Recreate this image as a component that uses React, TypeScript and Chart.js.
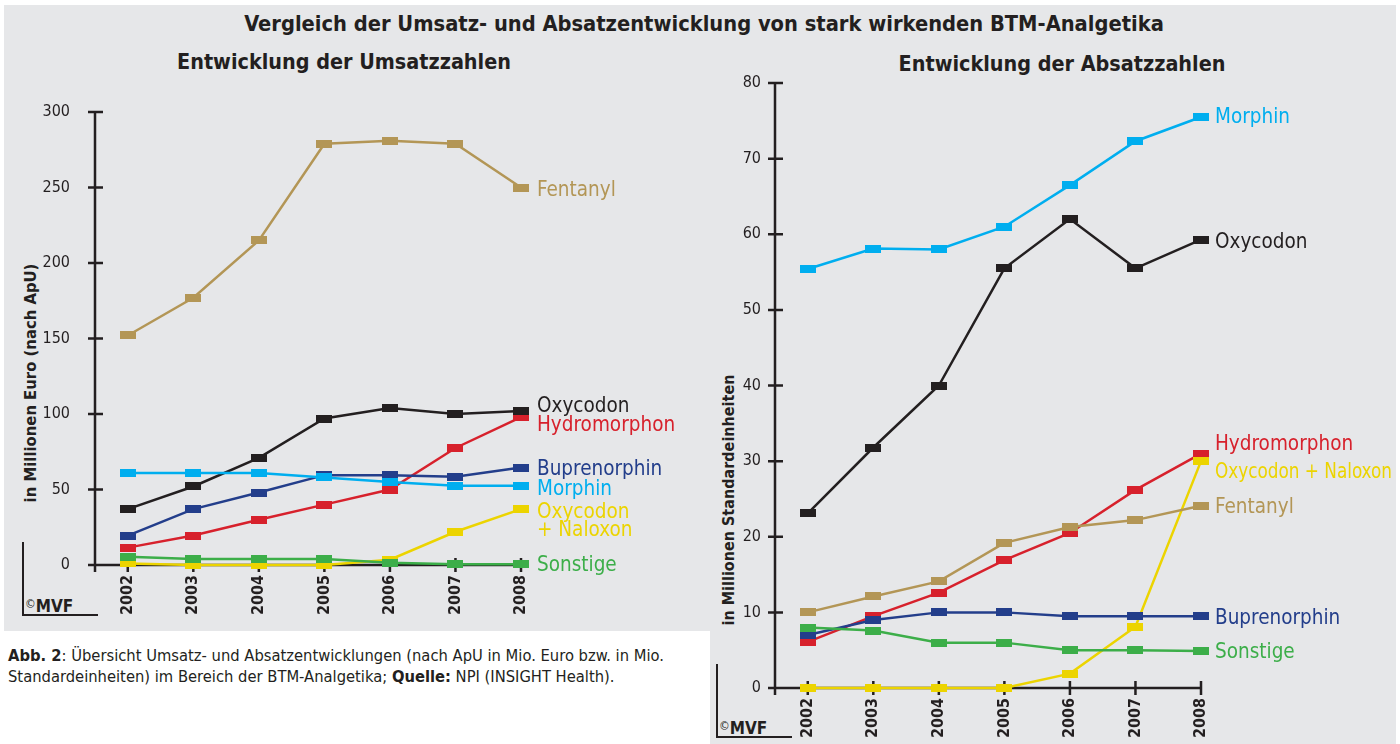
import React, { useEffect, useRef } from "react";
import { Chart, registerables } from "chart.js";

Chart.register(...registerables);

// ---------- data ----------
const years = [2002, 2003, 2004, 2005, 2006, 2007, 2008];
const yearLabels = ["2002", "2003", "2004", "2005", "2006", "2007", "2008"];

// Umsatz (in Millionen Euro, nach ApU)
const umsatzFentanyl = [152, 177, 215, 279, 281, 279, 250];
const umsatzOxycodon = [37, 52, 71, 97, 104, 100, 102];
const umsatzHydromorphon = [11.5, 19.5, 30, 40, 50, 77.5, 98];
const umsatzBuprenorphin = [19.5, 37, 48, 59.5, 59.5, 58.5, 64.5];
const umsatzMorphin = [61, 61, 61, 58, 55, 52.5, 52.5];
const umsatzOxyNaloxon = [1, 0, 0, 0, 3.5, 22, 37];
const umsatzSonstige = [5.5, 4, 4, 4, 1.5, 0.5, 0.5];
const umsatzTicks = [0, 50, 100, 150, 200, 250, 300];

// Absatz (in Millionen Standardeinheiten)
const absatzMorphin = [55.4, 58.1, 58, 61, 66.5, 72.3, 75.5];
const absatzOxycodon = [23.1, 31.8, 40, 55.5, 62, 55.5, 59.3];
const absatzHydromorphon = [6.1, 9.5, 12.6, 16.9, 20.5, 26.2, 31];
const absatzOxyNaloxon = [0, 0, 0, 0, 1.9, 8.1, 30];
const absatzFentanyl = [10, 12.1, 14.1, 19.2, 21.3, 22.2, 24.1];
const absatzBuprenorphin = [7, 9, 10, 10, 9.5, 9.5, 9.5];
const absatzSonstige = [8, 7.6, 6, 6, 5, 5, 4.9];
const absatzTicks = [0, 10, 20, 30, 40, 50, 60, 70, 80];

// ---------- style ----------
const FONT = "'DejaVu Sans Condensed', 'DejaVu Sans', sans-serif";
const INK = "#231f20";
const BG = "#e6e7e9";
const C = {
  fentanyl: "#b39656",
  oxycodon: "#231f20",
  hydromorphon: "#d7212c",
  buprenorphin: "#233e8b",
  morphin: "#00aeef",
  oxynal: "#ecd400",
  sonstige: "#3cae49",
};

type Series = { name: string; values: number[]; color: string; label: string[]; dy: number; maxW?: number };

const umsatzSeries: Series[] = [
  { name: "Sonstige", values: umsatzSonstige, color: C.sonstige, label: ["Sonstige"], dy: 1 },
  { name: "Oxycodon + Naloxon", values: umsatzOxyNaloxon, color: C.oxynal, label: ["Oxycodon", "+ Naloxon"], dy: 4 },
  { name: "Morphin", values: umsatzMorphin, color: C.morphin, label: ["Morphin"], dy: 4 },
  { name: "Buprenorphin", values: umsatzBuprenorphin, color: C.buprenorphin, label: ["Buprenorphin"], dy: 2 },
  { name: "Oxycodon", values: umsatzOxycodon, color: C.oxycodon, label: ["Oxycodon"], dy: -4 },
  { name: "Hydromorphon", values: umsatzHydromorphon, color: C.hydromorphon, label: ["Hydromorphon"], dy: 9 },
  { name: "Fentanyl", values: umsatzFentanyl, color: C.fentanyl, label: ["Fentanyl"], dy: 3 },
];

const absatzSeries: Series[] = [
  { name: "Sonstige", values: absatzSonstige, color: C.sonstige, label: ["Sonstige"], dy: 2 },
  { name: "Buprenorphin", values: absatzBuprenorphin, color: C.buprenorphin, label: ["Buprenorphin"], dy: 3 },
  { name: "Fentanyl", values: absatzFentanyl, color: C.fentanyl, label: ["Fentanyl"], dy: 2 },
  { name: "Oxycodon + Naloxon", values: absatzOxyNaloxon, color: C.oxynal, label: ["Oxycodon + Naloxon"], dy: 12, maxW: 177 },
  { name: "Hydromorphon", values: absatzHydromorphon, color: C.hydromorphon, label: ["Hydromorphon"], dy: -9 },
  { name: "Oxycodon", values: absatzOxycodon, color: C.oxycodon, label: ["Oxycodon"], dy: 3 },
  { name: "Morphin", values: absatzMorphin, color: C.morphin, label: ["Morphin"], dy: 1 },
];

function makeMarker(color: string) {
  const c = document.createElement("canvas");
  c.width = 16;
  c.height = 8;
  const ctx = c.getContext("2d")!;
  ctx.fillStyle = color;
  ctx.fillRect(0, 0, 16, 8);
  return c;
}

const crossAxesPlugin = {
  id: "crossAxes",
  beforeDatasetsDraw(chart: any) {
    const { ctx, chartArea } = chart;
    const xs = chart.scales.x;
    const ys = chart.scales.y;
    const x0 = chartArea.left;
    const y0 = ys.getPixelForValue(0);
    const xEnd = xs.getPixelForValue(years[years.length - 1]);
    ctx.save();
    ctx.strokeStyle = INK;
    ctx.lineWidth = 2.5;
    ctx.beginPath();
    ctx.moveTo(x0, chartArea.top);
    ctx.lineTo(x0, y0 + 7);
    ctx.moveTo(x0 - 7, y0);
    ctx.lineTo(xEnd, y0);
    ys.ticks.forEach((t: any) => {
      const y = ys.getPixelForValue(t.value);
      ctx.moveTo(x0 - 7, y);
      ctx.lineTo(x0 + 8, y);
    });
    years.forEach((yr) => {
      const x = xs.getPixelForValue(yr);
      ctx.moveTo(x, y0 - 7);
      ctx.lineTo(x, y0 + 7);
    });
    ctx.stroke();
    ctx.restore();
  },
};

const endLabelsPlugin = {
  id: "endLabels",
  afterDatasetsDraw(chart: any, _args: any, opts: any) {
    const { ctx } = chart;
    const series: Series[] = opts.series || [];
    series.forEach((s, i) => {
      const meta = chart.getDatasetMeta(i);
      const pt = meta.data[meta.data.length - 1];
      if (!pt) return;
      ctx.save();
      ctx.font = `${opts.size}px ${FONT}`;
      ctx.fillStyle = s.color;
      ctx.textAlign = "left";
      ctx.textBaseline = "middle";
      s.label.forEach((line, k) => {
        const y = pt.y + s.dy + k * opts.lineHeight;
        if (s.maxW) ctx.fillText(line, pt.x + opts.dx, y, s.maxW);
        else ctx.fillText(line, pt.x + opts.dx, y);
      });
      ctx.restore();
    });
  },
};

type Geo = {
  width: number;
  height: number;
  left: number;
  top: number;
  padRight: number;
  xHeight: number;
  yPad: number;
  labelDx: number;
};

function LineChart({ series, ticks, geo }: { series: Series[]; ticks: number[]; geo: Geo }) {
  const ref = useRef<HTMLCanvasElement>(null);
  useEffect(() => {
    if (!ref.current) return;
    const chart = new Chart(ref.current, {
      type: "line",
      data: {
        datasets: series.map((s) => ({
          label: s.name,
          data: years.map((x, i) => ({ x, y: s.values[i] })),
          borderColor: s.color,
          backgroundColor: s.color,
          borderWidth: 2.5,
          pointStyle: makeMarker(s.color) as any,
          pointRadius: 5,
          pointHoverRadius: 5,
          tension: 0,
          clip: false as any,
        })),
      },
      options: {
        responsive: false,
        animation: false,
        devicePixelRatio: 1,
        events: [],
        layout: { padding: { left: 0, top: geo.top, right: geo.padRight, bottom: 0 } },
        plugins: {
          legend: { display: false },
          tooltip: { enabled: false },
          endLabels: { series, size: 20.5, dx: geo.labelDx, lineHeight: 18 },
        } as any,
        scales: {
          x: {
            type: "linear",
            min: 2001.5,
            max: years[years.length - 1],
            afterBuildTicks: (s: any) => {
              s.ticks = years.map((v) => ({ value: v }));
            },
            afterFit: (s: any) => {
              s.height = geo.xHeight;
            },
            grid: { display: false, drawTicks: false },
            border: { display: false },
            ticks: {
              autoSkip: false,
              minRotation: 90,
              maxRotation: 90,
              padding: 10,
              color: INK,
              font: { family: FONT, size: 16, weight: "bold" },
              callback: (v: any) => {
                const i = years.indexOf(Number(v));
                return i >= 0 ? yearLabels[i] : "";
              },
            },
          },
          y: {
            min: 0,
            max: ticks[ticks.length - 1],
            afterBuildTicks: (s: any) => {
              s.ticks = ticks.map((v) => ({ value: v }));
            },
            afterFit: (s: any) => {
              s.width = geo.left;
            },
            grid: { display: false, drawTicks: false },
            border: { display: false },
            ticks: {
              padding: geo.yPad,
              color: INK,
              font: { family: FONT, size: 16 },
              callback: (v: any) => String(v),
            },
          },
        },
      },
      plugins: [crossAxesPlugin, endLabelsPlugin],
    });
    return () => chart.destroy();
  }, []);
  return <canvas ref={ref} width={geo.width} height={geo.height} style={{ width: geo.width, height: geo.height, display: "block" }} />;
}

const umsatzGeo: Geo = { width: 700, height: 631, left: 95, top: 112, padRight: 179, xHeight: 66, yPad: 25, labelDx: 16 };
const absatzGeo: Geo = { width: 700, height: 744, left: 75, top: 83, padRight: 199, xHeight: 56, yPad: 14, labelDx: 14 };

function Copyright({ left, top }: { left: number; top: number }) {
  return (
    <>
      <div
        style={{
          position: "absolute",
          left,
          top,
          width: 74,
          height: 72,
          borderLeft: `2.5px solid ${INK}`,
          borderBottom: `2.5px solid ${INK}`,
        }}
      />
      <div
        style={{
          position: "absolute",
          left: left + 3,
          top: top + 54,
          fontFamily: FONT,
          fontWeight: "bold",
          fontSize: 17,
          lineHeight: "17px",
          color: INK,
          whiteSpace: "nowrap",
        }}
      >
        <span style={{ fontSize: 12, verticalAlign: "4px", fontWeight: "normal" }}>©</span>MVF
      </div>
    </>
  );
}

export default function App() {
  return (
    <div
      style={{
        position: "fixed",
        left: 0,
        top: 0,
        width: 1400,
        height: 744,
        background: "#ffffff",
        overflow: "hidden",
        fontFamily: FONT,
        color: INK,
      }}
    >
      <div style={{ position: "absolute", left: 4, top: 5, width: 1392, height: 739, background: BG }} />
      <div style={{ position: "absolute", left: 0, top: 631, width: 710, height: 113, background: "#ffffff" }} />

      <div
        style={{
          position: "absolute",
          left: 0,
          top: 12,
          width: 1408,
          textAlign: "center",
          fontWeight: "bold",
          fontSize: 21.7,
          lineHeight: "24px",
          whiteSpace: "nowrap",
        }}
      >
        Vergleich der Umsatz- und Absatzentwicklung von stark wirkenden BTM-Analgetika
      </div>
      <div
        style={{
          position: "absolute",
          left: 344,
          top: 50,
          transform: "translateX(-50%)",
          fontWeight: "bold",
          fontSize: 21.4,
          lineHeight: "24px",
          whiteSpace: "nowrap",
        }}
      >
        Entwicklung der Umsatzzahlen
      </div>
      <div
        style={{
          position: "absolute",
          left: 1062,
          top: 52,
          transform: "translateX(-50%)",
          fontWeight: "bold",
          fontSize: 21.4,
          lineHeight: "24px",
          whiteSpace: "nowrap",
        }}
      >
        Entwicklung der Absatzzahlen
      </div>

      <div
        style={{
          position: "absolute",
          left: 30,
          top: 383,
          transform: "translate(-50%, -50%) rotate(-90deg)",
          fontWeight: "bold",
          fontSize: 16.5,
          whiteSpace: "nowrap",
        }}
      >
        in Millionen Euro (nach ApU)
      </div>
      <div
        style={{
          position: "absolute",
          left: 728,
          top: 500,
          transform: "translate(-50%, -50%) rotate(-90deg)",
          fontWeight: "bold",
          fontSize: 16,
          whiteSpace: "nowrap",
        }}
      >
        in Millionen Standardeinheiten
      </div>

      <Copyright left={22} top={542} />
      <Copyright left={716} top={664} />

      <div style={{ position: "absolute", left: 0, top: 0 }}>
        <LineChart series={umsatzSeries} ticks={umsatzTicks} geo={umsatzGeo} />
      </div>
      <div style={{ position: "absolute", left: 700, top: 0 }}>
        <LineChart series={absatzSeries} ticks={absatzTicks} geo={absatzGeo} />
      </div>

      <div
        style={{
          position: "absolute",
          left: 8,
          top: 645,
          fontSize: 16.4,
          lineHeight: "21px",
          whiteSpace: "nowrap",
        }}
      >
        <b>Abb. 2</b>: Übersicht Umsatz- und Absatzentwicklungen (nach ApU in Mio. Euro bzw. in Mio.
        <br />
        Standardeinheiten) im Bereich der BTM-Analgetika; <b>Quelle:</b> NPI (INSIGHT Health).
      </div>
    </div>
  );
}
